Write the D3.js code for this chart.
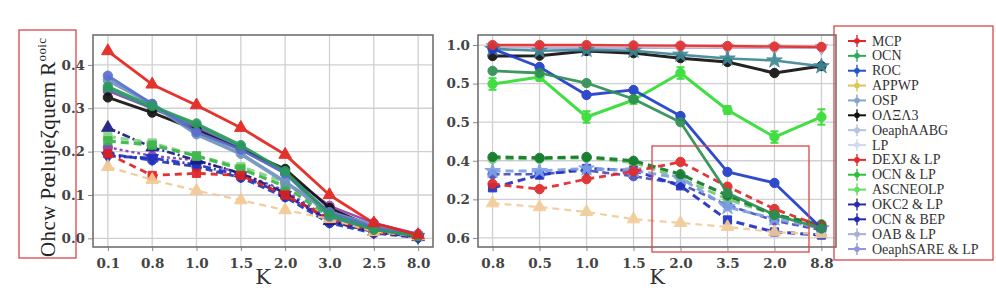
<!DOCTYPE html>
<html><head><meta charset="utf-8">
<script src="https://cdn.jsdelivr.net/npm/d3@7/dist/d3.min.js"></script>
<style>
html,body{margin:0;padding:0;background:#fff;}
svg{display:block;}
</style></head>
<body>
<svg id="chart" width="996" height="293"></svg>
<script>
// ---------- data ----------
const seriesNames = ["MCP","OCN","ROC","APPWP","OSP","O\u039b\u039e\u039b3","OeaphAABG","LP",
  "DEXJ & LP","OCN & LP","ASCNEOLP","OKC2 & LP","OCN & BEP","OAB & LP","OeaphSARE & LP"];
const leftTickLabels = ["0.1","0.8","1.0","1.5","2.0","3.0","2.5","8.0"];
const rightTickLabels = ["0.8","0.5","1.0","1.5","2.0","3.5","2.0","8.8"];
const leftYTicks = [0,0.1,0.2,0.3,0.4];
const leftYLabels = ["0.0","0.1","0.2","0.3","0.4"];
const rightYTicks = [0,0.2,0.4,0.6,0.8,1.0];
const rightYLabels = ["0.6","0.2","0.4","0.5","0.5","1.0"];

const leftValues = [
  [0.432,0.355,0.307,0.255,0.193,0.100,0.035,0.008],
  [0.350,0.305,0.265,0.215,0.155,0.055,0.020,0.005],
  [0.375,0.310,0.245,0.205,0.150,0.060,0.025,0.005],
  [0.165,0.135,0.110,0.088,0.065,0.045,0.015,0.005],
  [0.365,0.310,0.240,0.195,0.130,0.060,0.030,0.008],
  [0.325,0.290,0.250,0.205,0.160,0.070,0.025,0.005],
  [0.345,0.300,0.260,0.210,0.150,0.050,0.020,0.005],
  [0.340,0.300,0.255,0.205,0.150,0.075,0.035,0.010],
  [0.195,0.145,0.150,0.145,0.100,0.045,0.015,0.005],
  [0.225,0.215,0.190,0.160,0.120,0.050,0.020,0.005],
  [0.235,0.220,0.190,0.165,0.130,0.055,0.020,0.005],
  [0.255,0.210,0.180,0.150,0.105,0.040,0.015,0.003],
  [0.190,0.185,0.170,0.145,0.100,0.040,0.015,0.003],
  [0.210,0.190,0.180,0.150,0.110,0.045,0.020,0.005],
  [0.195,0.180,0.165,0.140,0.095,0.035,0.012,0.002]
];
const rightValues = [
  [1.000,1.000,1.000,0.998,0.997,0.995,0.992,0.990],
  [0.866,0.855,0.803,0.720,0.600,0.233,0.120,0.050],
  [0.980,0.886,0.741,0.767,0.632,0.342,0.285,0.050],
  [0.180,0.160,0.135,0.097,0.078,0.057,0.030,0.020],
  [0.980,0.970,0.975,0.970,0.950,0.930,0.920,0.890],
  [0.943,0.945,0.969,0.958,0.932,0.912,0.855,0.891],
  [0.995,0.995,0.995,0.995,0.990,0.990,0.990,0.990],
  [0.990,0.985,0.985,0.985,0.985,0.985,0.985,0.985],
  [0.280,0.253,0.305,0.345,0.394,0.266,0.150,0.060],
  [0.420,0.415,0.420,0.400,0.330,0.220,0.120,0.070],
  [0.798,0.834,0.627,0.715,0.855,0.663,0.523,0.627],
  [0.347,0.347,0.360,0.350,0.310,0.160,0.100,0.050],
  [0.260,0.326,0.360,0.350,0.270,0.093,0.031,0.015],
  [0.410,0.410,0.415,0.390,0.310,0.200,0.120,0.060],
  [0.330,0.330,0.350,0.320,0.280,0.170,0.090,0.040]
];
const rightErrors = [0.03,0.02,0.03,0.02,0.03,0.02,0.03,0.04]; // for ASCNEOLP (right)

// ---------- styles ----------
const legendColors = ["#e3262a","#2fa85e","#2356c4","#d9c653","#86a4c6","#111111","#b6c2e0","#d2d8ee",
  "#e32a2a","#2fbf3a","#5fe05f","#2a2aa8","#2626b0","#a8aed8","#8f98d4"];
const leftStyle = [
  {c:"#e3231c",d:null,m:"tri",w:2.8},
  {c:"#2a9a5c",d:null,m:"circle",w:2.8},
  {c:"#5a6ed0",d:null,m:"circle",w:2.8},
  {c:"#f3c890",d:"7,5",m:"tri",w:2.2},
  {c:"#6f94bd",d:null,m:"circle",w:3.8},
  {c:"#111111",d:null,m:"circle",w:2.8},
  {c:"#3d8c8c",d:null,m:"circle",w:2.8},
  {c:"#9b3cb0",d:null,m:"circle",w:2.4},
  {c:"#e02020",d:"7,5",m:"square",w:2.8},
  {c:"#3cb54a",d:"8,5",m:"square",w:3.2},
  {c:"#86d486",d:"8,5",m:"square",w:3.2},
  {c:"#1a1a80",d:"8,3,2,3",m:"tri",w:2.6},
  {c:"#2030c0",d:"8,3,2,3",m:"tridown",w:2.8},
  {c:"#8040b0",d:"3,3",m:"circle",w:2.4},
  {c:"#2536b8",d:"7,4",m:"circle",w:2.8}
];
const rightStyle = [
  {c:"#e03030",d:null,m:"circle",w:2.4},
  {c:"#2e8f52",d:null,m:"circle",w:2.8},
  {c:"#1f3cc8",d:null,m:"circle",w:2.8},
  {c:"#f3cc98",d:"7,5",m:"tri",w:2.2},
  {c:"#3f8796",d:null,m:"star",w:2.6},
  {c:"#111111",d:null,m:"circle",w:3},
  {c:"#f0bcc4",d:null,m:"circle",w:2.4},
  {c:"#a8a8e0",d:null,m:"tridown",w:2},
  {c:"#e02828",d:"7,5",m:"circle",w:2.8},
  {c:"#127a2a",d:"8,5",m:"circle",w:3.2},
  {c:"#33dd33",d:null,m:"circle",w:3},
  {c:"#7da0e8",d:"8,5",m:"star",w:3},
  {c:"#2030c0",d:"8,5",m:"square",w:3},
  {c:"#78c878",d:"8,5",m:"circle",w:2.8},
  {c:"#4a50b8",d:"7,4",m:"circle",w:2.6}
];

// ---------- drawing ----------
const svg = d3.select("#chart");
const FONT = "DejaVu Serif";

const symType = {circle:d3.symbolCircle, tri:d3.symbolTriangle, tridown:d3.symbolTriangle, square:d3.symbolSquare, star:d3.symbolStar};

function panel(opts){
  const {x0,x1,y0,y1,pad,yDomain,yTicks,yLabels,xLabels,values,styles,errors,errIdx} = opts;
  const idx = d3.range(xLabels.length);
  const x = d3.scalePoint().domain(idx).range([x0,x1]).padding(pad);
  const y = d3.scaleLinear().domain(yDomain).range([y1,y0]);
  const g = svg.append("g");
  // grid
  g.append("g").selectAll("line").data(idx).join("line")
    .attr("x1",d=>x(d)).attr("x2",d=>x(d)).attr("y1",y0).attr("y2",y1)
    .attr("stroke","#d0d0d4").attr("stroke-width",1.3);
  g.append("g").selectAll("line").data(yTicks).join("line")
    .attr("x1",x0).attr("x2",x1).attr("y1",d=>y(d)).attr("y2",d=>y(d))
    .attr("stroke","#d0d0d4").attr("stroke-width",1.3);
  // axes
  const ax = g.append("g").attr("transform",`translate(0,${y1})`)
    .call(d3.axisBottom(x).tickSize(4).tickPadding(4).tickFormat(i=>xLabels[i]));
  const ay = g.append("g").attr("transform",`translate(${x0},0)`)
    .call(d3.axisLeft(y).tickValues(yTicks).tickSize(5).tickPadding(3).tickFormat((d,i)=>yLabels[i]));
  [ax,ay].forEach(a=>{
    a.select(".domain").remove();
    a.selectAll(".tick line").attr("stroke","#888");
    a.selectAll("text").attr("font-family",FONT).attr("font-size",13.5).attr("fill","#444").attr("font-weight","bold");
  });
  ax.selectAll("text").attr("dy","0.95em");
  // lines: dashed first then solid, reverse order so index 0 on top
  const order = d3.range(values.length).sort((a,b)=>{
    const da = styles[a].d?1:0, db = styles[b].d?1:0;
    if(da!==db) return db-da;
    return b-a;
  });
  const line = d3.line().x((d,i)=>x(i)).y(d=>y(d));
  order.forEach(si=>{
    const s = styles[si], vals = values[si];
    const sg = g.append("g").attr("opacity",0.92);
    sg.append("path").attr("d",line(vals)).attr("fill","none")
      .attr("stroke",s.c).attr("stroke-width",s.w)
      .attr("stroke-dasharray",s.d).attr("stroke-linejoin","round");
    if(errors && si===errIdx){
      vals.forEach((v,i)=>{
        const e = errors[i];
        sg.append("line").attr("x1",x(i)).attr("x2",x(i)).attr("y1",y(v-e)).attr("y2",y(v+e))
          .attr("stroke",s.c).attr("stroke-width",2.2);
        [v-e,v+e].forEach(t=>sg.append("line").attr("x1",x(i)-4).attr("x2",x(i)+4)
          .attr("y1",y(t)).attr("y2",y(t)).attr("stroke",s.c).attr("stroke-width",2));
      });
    }
    const sym = d3.symbol().type(symType[s.m]).size(s.m==="star"?75:68);
    sg.selectAll("path.m").data(vals).join("path").attr("class","m")
      .attr("d",sym)
      .attr("transform",(d,i)=>`translate(${x(i)},${y(d)})${s.m==="tridown"?" rotate(180)":""}`)
      .attr("fill",s.c).attr("stroke",s.c).attr("stroke-width",1);
  });
  // frame
  g.append("rect").attr("x",x0).attr("y",y0).attr("width",x1-x0).attr("height",y1-y0)
    .attr("fill","none").attr("stroke","#707070").attr("stroke-width",1.6);
  // K label
  g.append("text").attr("x",opts.kx).attr("y",284).attr("text-anchor","middle")
    .attr("font-family",FONT).attr("font-size",21).attr("fill","#333").text("K");
  return {x,y};
}

panel({x0:93,x1:433,y0:35,y1:247,pad:0.335,yDomain:[-0.02,0.469],yTicks:leftYTicks,yLabels:leftYLabels,
  xLabels:leftTickLabels,values:leftValues,styles:leftStyle,kx:263});
panel({x0:478,x1:836,y0:35,y1:247,pad:0.31,yDomain:[-0.047,1.052],yTicks:rightYTicks,yLabels:rightYLabels,
  xLabels:rightTickLabels,values:rightValues,styles:rightStyle,errors:rightErrors,errIdx:10,kx:657});

// y-axis label (left)
const yl = svg.append("text").attr("transform","translate(55,257) rotate(-90)")
  .attr("font-family","Liberation Serif").attr("font-size",21).attr("letter-spacing",0.4).attr("fill","#222");
yl.append("tspan").text("Ohcw  P\u0153lujeζquem  R");
yl.append("tspan").attr("font-size",13).attr("dy",-9).text("ooic");

// red annotation boxes
svg.append("rect").attr("x",19).attr("y",30).attr("width",57).attr("height",228)
  .attr("fill","none").attr("stroke","#d94848").attr("stroke-width",1.3);
svg.append("rect").attr("x",652).attr("y",146).attr("width",157).attr("height",106)
  .attr("fill","none").attr("stroke","#d94848").attr("stroke-width",1.3);

// legend
const lg = svg.append("g");
lg.append("rect").attr("x",834).attr("y",26).attr("width",159).attr("height",234)
  .attr("fill","none").attr("stroke","#d94848").attr("stroke-width",1.3);
seriesNames.forEach((n,i)=>{
  const yy = 41 + i*14.86;
  const c = legendColors[i];
  lg.append("line").attr("x1",848).attr("x2",866).attr("y1",yy).attr("y2",yy).attr("stroke",c).attr("stroke-width",2);
  lg.append("line").attr("x1",857).attr("x2",857).attr("y1",yy-6).attr("y2",yy+6).attr("stroke",c).attr("stroke-width",1.4);
  lg.append("circle").attr("cx",857).attr("cy",yy).attr("r",2.8).attr("fill",c);
  lg.append("text").attr("x",872).attr("y",yy+4.5).attr("font-family","Liberation Serif")
    .attr("font-size",14).attr("fill","#333").text(n);
});
</script>
</body></html>
